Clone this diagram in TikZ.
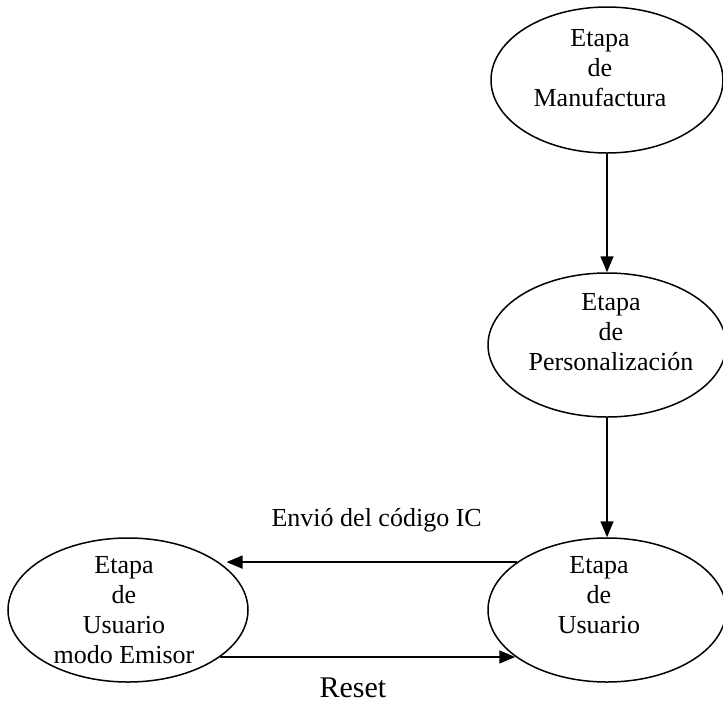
\documentclass[tikz,border=0pt]{standalone}
\usepackage{fontspec}
\setmainfont{Liberation Serif}
\usetikzlibrary{arrows.meta,shapes.geometric}
\begin{document}
\begin{tikzpicture}[x=1pt,y=1pt,
  etapa/.style={draw, ellipse, line width=1.5pt, inner sep=0pt,
    minimum width=238pt, minimum height=144pt},
  texto/.style={align=center, inner sep=0pt, font=\fontsize{26}{30}\selectfont},
  flecha/.style={line width=1.5pt, -{Triangle[length=16pt,width=13pt]}}]
  \useasboundingbox (0,0) rectangle (723,-702);
  % estados
  \node[etapa, minimum width=232pt, minimum height=146pt] (manuf) at (607,-80) {};
  \node[etapa] (pers) at (607,-345) {};
  \node[etapa] (usu) at (607,-610) {};
  \node[etapa, minimum width=240pt] (emi) at (128,-610) {};
  \node[texto] (manuf-t) at ([shift={(-7,12)}]manuf) {Etapa\\de\\Manufactura};
  \node[texto] (pers-t) at ([shift={(4,13)}]pers) {Etapa\\de\\Personalización};
  \node[texto] (usu-t) at ([shift={(-8,15)}]usu) {Etapa\\de\\Usuario};
  \node[texto] (emi-t) at ([shift={(-4,0)}]emi) {Etapa\\de\\Usuario\\modo Emisor};
  % transiciones
  \draw[flecha] (manuf) -- (pers);
  \draw[flecha] (pers) -- (usu);
  \draw[flecha, shorten >=8pt] (usu.152) --
    node[texto, pos=.47, above=29pt] (envio) {Envió del código IC}
    (usu.152 -| emi.28);
  \draw[flecha] (emi.333) --
    node[texto, pos=.45, below=20pt, font=\fontsize{30}{34}\selectfont] (reset) {Reset}
    (emi.333 -| usu.207);
\end{tikzpicture}
\end{document}
